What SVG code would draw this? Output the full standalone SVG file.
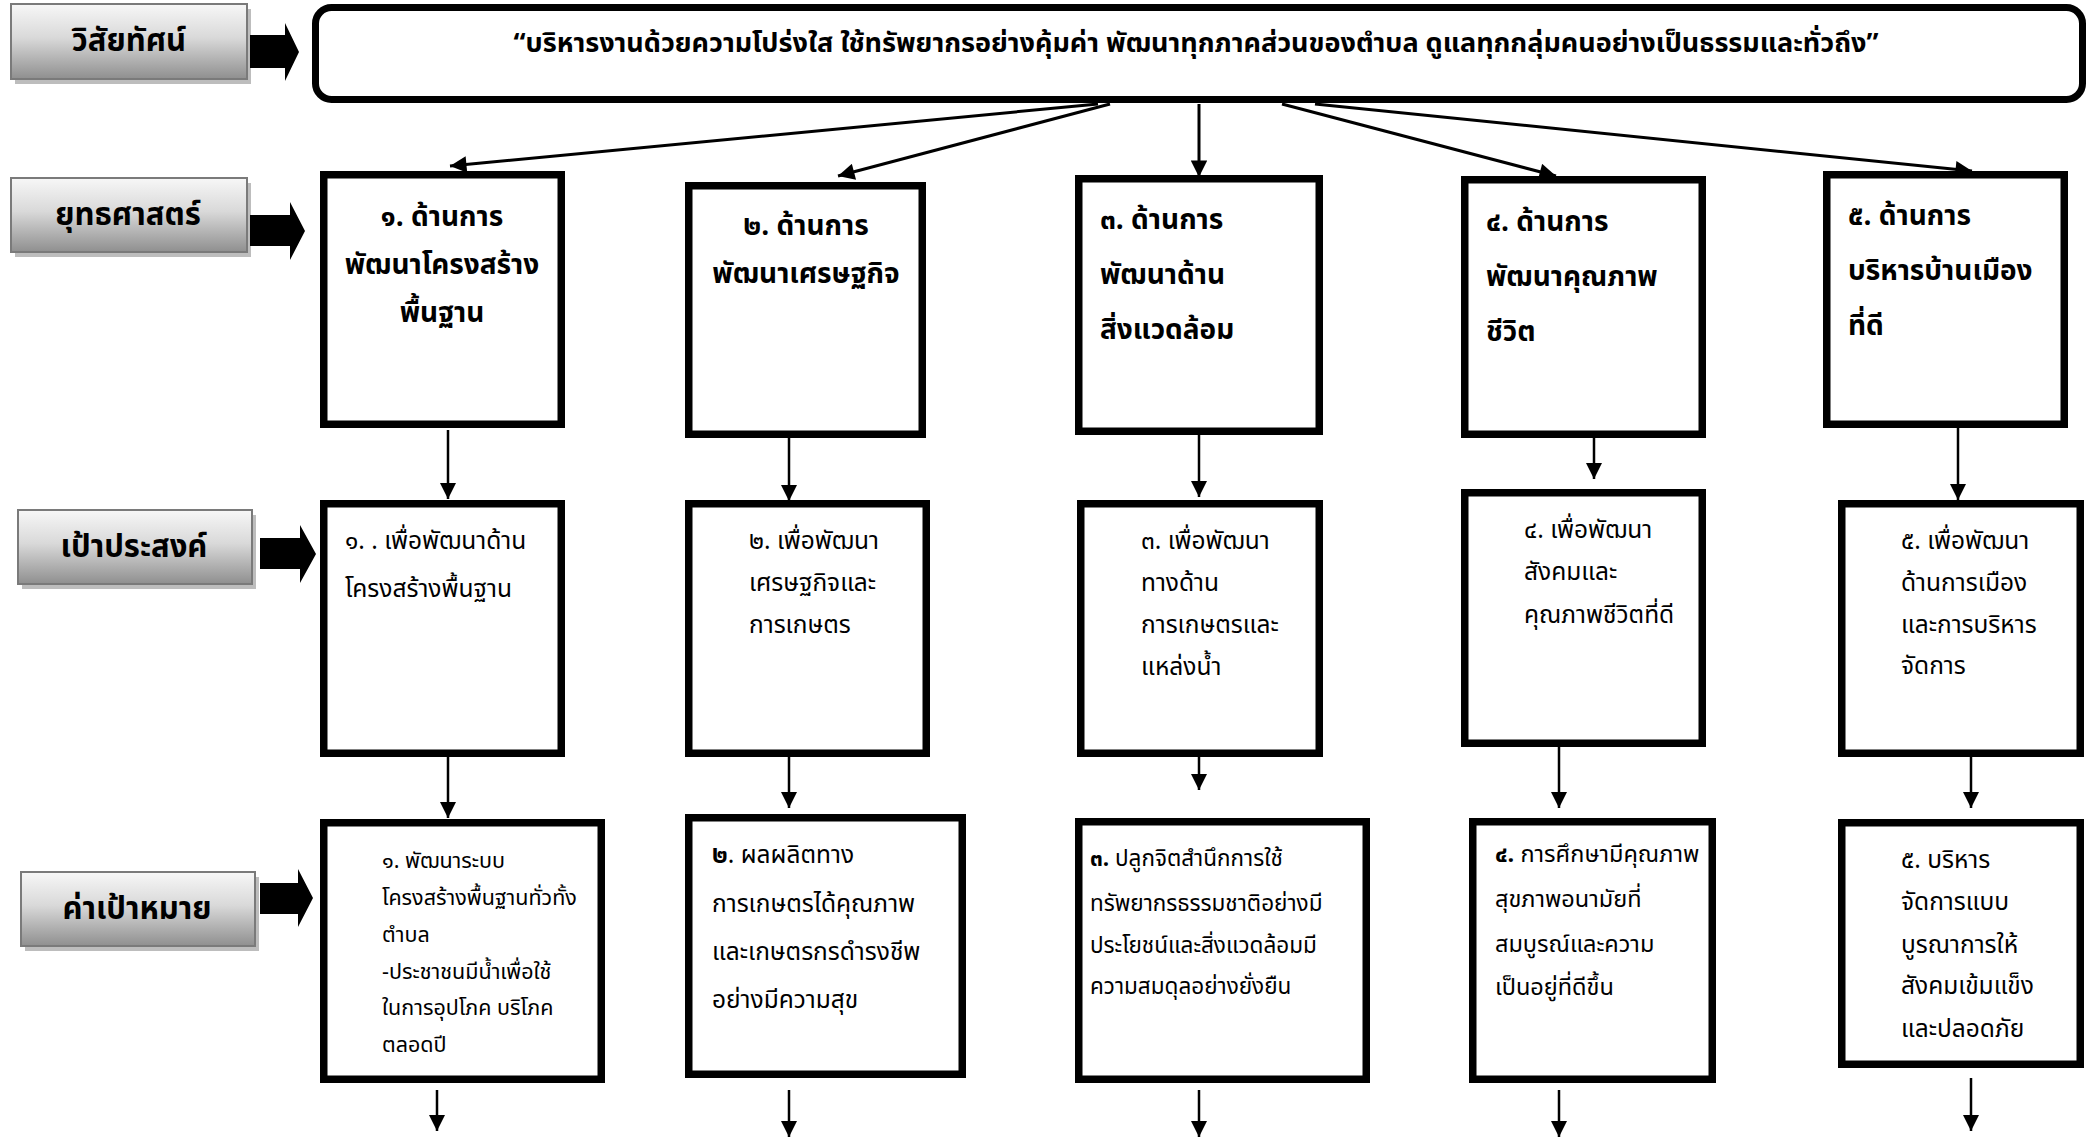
<svg xmlns="http://www.w3.org/2000/svg" width="2094" height="1139" viewBox="0 0 2094 1139">
<defs>
  <linearGradient id="lblGrad" x1="0" y1="0" x2="0" y2="1">
    <stop offset="0" stop-color="#f7f7f7"/>
    <stop offset="0.45" stop-color="#d9d9d9"/>
    <stop offset="1" stop-color="#8f8f8f"/>
  </linearGradient>
  <marker id="ah" viewBox="0 0 10 10" refX="10" refY="5" markerWidth="6" markerHeight="5.5" orient="auto" markerUnits="strokeWidth">
    <path d="M0,0 L10,5 L0,10 z" fill="#000"/>
  </marker>
  <marker id="ahv" viewBox="0 0 10 10" refX="10" refY="5" markerWidth="6.5" markerHeight="6.5" orient="auto" markerUnits="strokeWidth">
    <path d="M0,0 L10,5 L0,10 z" fill="#000"/>
  </marker>
</defs>
<style>
  text { font-family: "Noto Sans Thai", "Noto Sans", "DejaVu Sans", sans-serif; fill: #000; }
  .lbl-shadow { fill: #bdbdbd; }
  .lbl-box { fill: url(#lblGrad); stroke: #7a7a7a; stroke-width: 2; }
  .lbl-text { font-size: 31px; font-weight: bold; text-anchor: middle; }
  .block { fill: #000; }
  .vision { fill: #fff; stroke: #000; stroke-width: 7; }
  .vision-text { font-size: 27px; font-weight: bold; text-anchor: middle; }
  .box { fill: #fff; stroke: #000; stroke-width: 7.5; }
  .st { font-size: 28px; font-weight: bold; }
  .ob { font-size: 24.5px; }
  .tg { font-size: 21.5px; }
  .fan { stroke: #000; stroke-width: 3; fill: none; marker-end: url(#ah); }
  .vl { stroke: #000; stroke-width: 2.5; fill: none; marker-end: url(#ahv); }
</style>

<!-- Row labels -->
<g id="label-vision">
  <rect class="lbl-shadow" x="15" y="9" width="236" height="75"/>
  <rect class="lbl-box" x="11" y="4" width="236" height="75"/>
  <text class="lbl-text" x="129" y="51">วิสัยทัศน์</text>
  <polygon class="block" points="250,35 285,35 285,23 299,52 285,81 285,68 250,68"/>
</g>
<g id="label-strategy">
  <rect class="lbl-shadow" x="15" y="183" width="236" height="74"/>
  <rect class="lbl-box" x="11" y="178" width="236" height="74"/>
  <text class="lbl-text" x="128" y="225">ยุทธศาสตร์</text>
  <polygon class="block" points="250,215 290,215 290,202 305,231 290,260 290,246 250,246"/>
</g>
<g id="label-objective">
  <rect class="lbl-shadow" x="22" y="515" width="234" height="74"/>
  <rect class="lbl-box" x="18" y="510" width="234" height="74"/>
  <text class="lbl-text" x="134" y="557">เป้าประสงค์</text>
  <polygon class="block" points="260,538 300,538 300,525 316,554 300,583 300,569 260,569"/>
</g>
<g id="label-target">
  <rect class="lbl-shadow" x="25" y="877" width="234" height="74"/>
  <rect class="lbl-box" x="21" y="872" width="234" height="74"/>
  <text class="lbl-text" x="137" y="919">ค่าเป้าหมาย</text>
  <polygon class="block" points="260,883 298,883 298,869 313,898 298,927 298,914 260,914"/>
</g>

<!-- Vision -->
<g id="vision">
  <rect class="vision" x="315.5" y="7.5" width="1767" height="92" rx="16" ry="16"/>
  <text class="vision-text" x="1196" y="52">“บริหารงานด้วยความโปร่งใส ใช้ทรัพยากรอย่างคุ้มค่า พัฒนาทุกภาคส่วนของตำบล ดูแลทุกกลุ่มคนอย่างเป็นธรรมและทั่วถึง”</text>
</g>

<!-- Strategy boxes -->
<g id="strategy-1">
  <rect class="box" x="323.75" y="174.75" width="237.5" height="249.5"/>
  <text class="st" text-anchor="middle"><tspan x="442" y="226">๑. ด้านการ</tspan><tspan x="442" y="274">พัฒนาโครงสร้าง</tspan><tspan x="442" y="322">พื้นฐาน</tspan></text>
</g>
<g id="strategy-2">
  <rect class="box" x="688.75" y="185.75" width="233.5" height="248.5"/>
  <text class="st" text-anchor="middle"><tspan x="806" y="235">๒. ด้านการ</tspan><tspan x="806" y="283">พัฒนาเศรษฐกิจ</tspan></text>
</g>
<g id="strategy-3">
  <rect class="box" x="1078.75" y="178.75" width="240.5" height="252.5"/>
  <text class="st"><tspan x="1100" y="229">๓. ด้านการ</tspan><tspan x="1100" y="284">พัฒนาด้าน</tspan><tspan x="1100" y="339">สิ่งแวดล้อม</tspan></text>
</g>
<g id="strategy-4">
  <rect class="box" x="1464.75" y="179.75" width="237.5" height="254.5"/>
  <text class="st"><tspan x="1486" y="231">๔. ด้านการ</tspan><tspan x="1486" y="286">พัฒนาคุณภาพ</tspan><tspan x="1486" y="341">ชีวิต</tspan></text>
</g>
<g id="strategy-5">
  <rect class="box" x="1826.75" y="174.75" width="237.5" height="249.5"/>
  <text class="st"><tspan x="1848" y="225">๕. ด้านการ</tspan><tspan x="1848" y="280">บริหารบ้านเมือง</tspan><tspan x="1848" y="335">ที่ดี</tspan></text>
</g>

<!-- Objective boxes -->
<g id="objective-1">
  <rect class="box" x="323.75" y="503.75" width="237.5" height="249.5"/>
  <text class="ob"><tspan x="345" y="549">๑. . เพื่อพัฒนาด้าน</tspan><tspan x="345" y="597">โครงสร้างพื้นฐาน</tspan></text>
</g>
<g id="objective-2">
  <rect class="box" x="688.75" y="503.75" width="237.5" height="249.5"/>
  <text class="ob"><tspan x="749" y="549">๒. เพื่อพัฒนา</tspan><tspan x="749" y="591">เศรษฐกิจและ</tspan><tspan x="749" y="633">การเกษตร</tspan></text>
</g>
<g id="objective-3">
  <rect class="box" x="1080.75" y="503.75" width="238.5" height="249.5"/>
  <text class="ob"><tspan x="1141" y="549">๓. เพื่อพัฒนา</tspan><tspan x="1141" y="591">ทางด้าน</tspan><tspan x="1141" y="633">การเกษตรและ</tspan><tspan x="1141" y="675">แหล่งน้ำ</tspan></text>
</g>
<g id="objective-4">
  <rect class="box" x="1464.75" y="492.75" width="237.5" height="250.5"/>
  <text class="ob"><tspan x="1524" y="538">๔. เพื่อพัฒนา</tspan><tspan x="1524" y="580">สังคมและ</tspan><tspan x="1524" y="623">คุณภาพชีวิตที่ดี</tspan></text>
</g>
<g id="objective-5">
  <rect class="box" x="1841.75" y="503.75" width="238.5" height="249.5"/>
  <text class="ob"><tspan x="1901" y="549">๕. เพื่อพัฒนา</tspan><tspan x="1901" y="591">ด้านการเมือง</tspan><tspan x="1901" y="633">และการบริหาร</tspan><tspan x="1901" y="674">จัดการ</tspan></text>
</g>

<!-- Target boxes -->
<g id="target-1">
  <rect class="box" x="323.75" y="822.75" width="277.5" height="256.5"/>
  <text class="tg"><tspan x="382" y="868">๑.  พัฒนาระบบ</tspan><tspan x="382" y="905">โครงสร้างพื้นฐานทั่วทั้ง</tspan><tspan x="382" y="942">ตำบล</tspan><tspan x="382" y="979">-ประชาชนมีน้ำเพื่อใช้</tspan><tspan x="382" y="1015">ในการอุปโภค บริโภค</tspan><tspan x="382" y="1052">ตลอดปี</tspan></text>
</g>
<g id="target-2">
  <rect class="box" x="688.75" y="817.75" width="273.5" height="256.5"/>
  <text class="tg" style="font-size:24.5px"><tspan x="712" y="863"><tspan font-weight="bold">๒</tspan>. ผลผลิตทาง</tspan><tspan x="712" y="912">การเกษตรได้คุณภาพ</tspan><tspan x="712" y="960">และเกษตรกรดำรงชีพ</tspan><tspan x="712" y="1008">อย่างมีความสุข</tspan></text>
</g>
<g id="target-3">
  <rect class="box" x="1078.75" y="821.75" width="287.5" height="257.5"/>
  <text class="tg" style="font-size:22.5px"><tspan x="1090" y="866"><tspan font-weight="bold">๓.</tspan> ปลูกจิตสำนึกการใช้</tspan><tspan x="1090" y="911">ทรัพยากรธรรมชาติอย่างมี</tspan><tspan x="1090" y="953">ประโยชน์และสิ่งแวดล้อมมี</tspan><tspan x="1090" y="994">ความสมดุลอย่างยั่งยืน</tspan></text>
</g>
<g id="target-4">
  <rect class="box" x="1472.75" y="821.75" width="239.5" height="257.5"/>
  <text class="tg" style="font-size:23.5px"><tspan x="1495" y="862"><tspan font-weight="bold">๔.</tspan> การศึกษามีคุณภาพ</tspan><tspan x="1495" y="907">สุขภาพอนามัยที่</tspan><tspan x="1495" y="952">สมบูรณ์และความ</tspan><tspan x="1495" y="995">เป็นอยู่ที่ดีขึ้น</tspan></text>
</g>
<g id="target-5">
  <rect class="box" x="1841.75" y="822.75" width="238.5" height="241.5"/>
  <text class="tg" style="font-size:24.5px"><tspan x="1901" y="868">๕. บริหาร</tspan><tspan x="1901" y="910">จัดการแบบ</tspan><tspan x="1901" y="953">บูรณาการให้</tspan><tspan x="1901" y="994">สังคมเข้มแข็ง</tspan><tspan x="1901" y="1037">และปลอดภัย</tspan></text>
</g>

<!-- Connectors -->
<g id="connectors">
  <line class="fan" x1="1098" y1="104" x2="450" y2="166"/>
  <line class="fan" x1="1110" y1="104" x2="838" y2="176"/>
  <line class="fan" x1="1199" y1="104" x2="1199" y2="177"/>
  <line class="fan" x1="1282" y1="104" x2="1556" y2="176"/>
  <line class="fan" x1="1315" y1="104" x2="1972" y2="171"/>

  <line class="vl" x1="448" y1="430" x2="448" y2="499"/>
  <line class="vl" x1="789" y1="438" x2="789" y2="501"/>
  <line class="vl" x1="1199" y1="435" x2="1199" y2="497"/>
  <line class="vl" x1="1594" y1="438" x2="1594" y2="479"/>
  <line class="vl" x1="1958" y1="428" x2="1958" y2="500"/>

  <line class="vl" x1="448" y1="757" x2="448" y2="818"/>
  <line class="vl" x1="789" y1="757" x2="789" y2="808"/>
  <line class="vl" x1="1199" y1="757" x2="1199" y2="790"/>
  <line class="vl" x1="1559" y1="747" x2="1559" y2="808"/>
  <line class="vl" x1="1971" y1="757" x2="1971" y2="808"/>

  <line class="vl" x1="437" y1="1090" x2="437" y2="1131"/>
  <line class="vl" x1="789" y1="1090" x2="789" y2="1137"/>
  <line class="vl" x1="1199" y1="1090" x2="1199" y2="1137"/>
  <line class="vl" x1="1559" y1="1090" x2="1559" y2="1137"/>
  <line class="vl" x1="1971" y1="1078" x2="1971" y2="1131"/>
</g>
</svg>
